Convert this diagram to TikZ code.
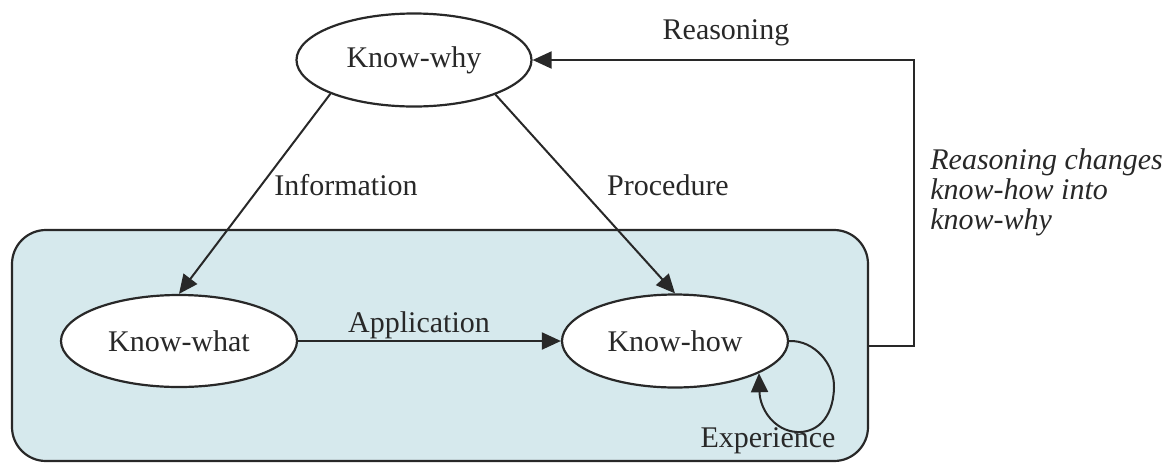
\documentclass[tikz,border=0pt]{standalone}
\usepackage{fontspec}
\setmainfont{Liberation Serif}
\usepackage{tikz}
\usetikzlibrary{positioning,arrows.meta,shapes.geometric}
\definecolor{boxfill}{RGB}{214,233,237}
\definecolor{ink}{RGB}{40,40,40}

\begin{document}
\begin{tikzpicture}[
  x=0.5pt, y=-0.5pt,
  font=\fontsize{15}{15}\selectfont,
  know/.style={draw=ink, ellipse, fill=white, line width=1.1pt, text=ink, inner sep=0pt},
  lbl/.style={text=ink, inner sep=1pt},
  flow/.style={draw=ink, line width=1pt, -{Triangle[length=9.5pt,width=8.5pt]}},
]
  \useasboundingbox (0,0) rectangle (1169,462);

  % Shaded area
  \node[draw=ink, line width=1.1pt, fill=boxfill, rounded corners=17pt,
        minimum width=428pt, minimum height=115.5pt] (box) at (440,345.5) {};

  % Knowledge types
  \node[know, minimum width=117.5pt, minimum height=46.5pt] (why) at (414,60) {Know-why};
  \node[know, minimum width=118pt, minimum height=46pt] (what) at (179,341) {Know-what};
  \node[know, minimum width=113pt, minimum height=46.5pt] (how) at (675,341) {Know-how};

  % Labels
  \node[lbl] (info) at (346,185) {Information};
  \node[lbl] (proc) at (668,185) {Procedure};
  \node[lbl] (appl) at (419,325) {Application};
  \node[lbl] (reas) at (726,33) {Reasoning};
  \node[lbl] (expr) at (768,441) {Experience};
  \node[lbl, anchor=west, align=left, font=\fontsize{15}{15}\selectfont\itshape] (note) at (928,192)
    {Reasoning changes\\know-how into\\know-why};

  % Arrows
  \draw[flow] (why.202) -- (what.north);
  \draw[flow] (why.337) -- (how.north);
  \draw[flow] (what.east) -- (how.west);
  \draw[flow] (box.east) -- ++(45,0) |- (why.east);
  \draw[flow] (how.east) .. controls (815,340) and (835,365) .. (834,388)
    .. controls (833,420) and (815,433) .. (797,432)
    .. controls (775,431) and (760,410) .. (how.339);
\end{tikzpicture}
\end{document}
